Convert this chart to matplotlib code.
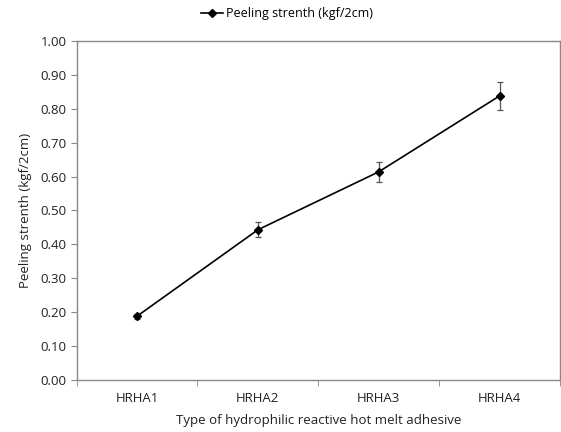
import matplotlib.pyplot as plt

# Datos
tipos = ["HRHA1", "HRHA2", "HRHA3", "HRHA4"]
resistencia = [0.188, 0.443, 0.614, 0.838]
error = [0.007, 0.022, 0.030, 0.042]
ticks_y = [0.0, 0.1, 0.2, 0.3, 0.4, 0.5, 0.6, 0.7, 0.8, 0.9, 1.0]

plt.rcParams["font.family"] = ["Open Sans", "DejaVu Sans"]

figura = plt.figure(figsize=(5.61, 4.32), dpi=100)
eje = figura.add_axes([0.1364, 0.1204, 0.8618, 0.7847])

posiciones = range(len(tipos))
eje.errorbar(
    posiciones, resistencia, yerr=error,
    fmt="none", ecolor="#555555", elinewidth=0.9, capsize=2.5, capthick=0.9
)
eje.plot(
    posiciones, resistencia,
    color="black", linewidth=1.2, marker="D", markersize=4,
    label="Peeling strenth (kgf/2cm)"
)

eje.set_xlim(-0.5, len(tipos) - 0.5)
eje.set_ylim(0, 1.0)
eje.set_yticks(ticks_y)
eje.set_yticklabels([f"{v:.2f}" for v in ticks_y], fontsize=9.5, color="#222222")
eje.set_xticks(posiciones)
eje.set_xticklabels(tipos, fontsize=9.5, color="#222222")
eje.set_xticks([i - 0.5 for i in range(len(tipos) + 1)], minor=True)
eje.tick_params(axis="x", which="major", length=0, pad=9)
eje.tick_params(axis="x", which="minor", length=4, color="#888888")
eje.tick_params(axis="y", length=4, color="#888888", pad=3)

for lado in eje.spines.values():
    lado.set_color("#888888")
    lado.set_linewidth(1.0)

eje.set_xlabel("Type of hydrophilic reactive hot melt adhesive", fontsize=9.5, color="#222222", labelpad=6)
eje.set_ylabel("Peeling strenth (kgf/2cm)", fontsize=9.5, color="#222222", labelpad=6)

figura.legend(
    loc="center", bbox_to_anchor=(0.511, 0.968), frameon=False,
    fontsize=9, handlelength=1.8, handletextpad=0.2
)

plt.savefig("out.png", dpi=100)
